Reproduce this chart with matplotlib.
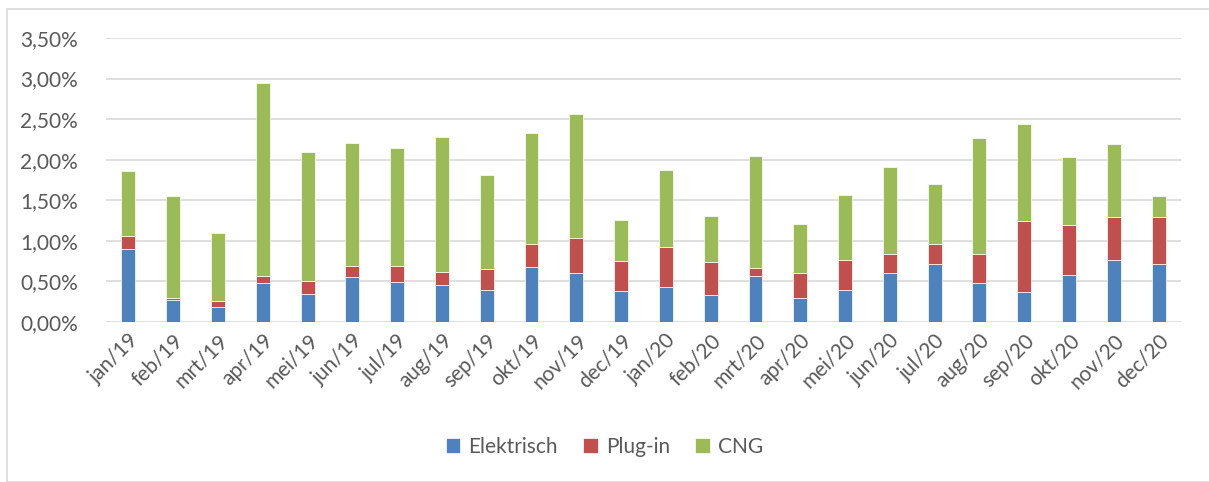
import matplotlib.pyplot as plt
from matplotlib.patches import Rectangle
from matplotlib.ticker import FuncFormatter, MultipleLocator
import numpy as np

plt.rcParams['font.family'] = ['Lato', 'DejaVu Sans']

# maanden
months = ["jan/19", "feb/19", "mrt/19", "apr/19", "mei/19", "jun/19",
          "jul/19", "aug/19", "sep/19", "okt/19", "nov/19", "dec/19",
          "jan/20", "feb/20", "mrt/20", "apr/20", "mei/20", "jun/20",
          "jul/20", "aug/20", "sep/20", "okt/20", "nov/20", "dec/20"]

# aandeel in procent per segment
elektrisch = [0.90, 0.27, 0.18, 0.48, 0.34, 0.55, 0.49, 0.45, 0.39, 0.68, 0.60, 0.38,
              0.43, 0.33, 0.57, 0.30, 0.39, 0.60, 0.72, 0.48, 0.37, 0.58, 0.77, 0.72]
plugin = [0.16, 0.02, 0.08, 0.09, 0.17, 0.14, 0.20, 0.17, 0.26, 0.28, 0.44, 0.37,
          0.50, 0.41, 0.10, 0.30, 0.37, 0.24, 0.24, 0.36, 0.87, 0.61, 0.53, 0.57]
cng = [0.80, 1.26, 0.84, 2.37, 1.58, 1.52, 1.45, 1.66, 1.16, 1.37, 1.52, 0.51,
       0.94, 0.57, 1.37, 0.61, 0.80, 1.07, 0.74, 1.43, 1.20, 0.84, 0.89, 0.26]

BLUE = "#4F81BD"
RED = "#C0504D"
GREEN = "#9BBB59"
GREY_TXT = "#595959"

fig = plt.figure(figsize=(12.09, 4.82), dpi=100)
# rand om het grafiekgebied
fig.patches.append(Rectangle((7 / 1209, 0), 1.0, 1 - 9 / 482, transform=fig.transFigure,
                             fill=False, edgecolor="#D9D9D9", linewidth=1.2))

ax = fig.add_axes([106 / 1209, 1 - 322 / 482, (1181 - 106) / 1209, (322 - 38) / 482])

x = np.arange(len(months))
e = np.array(elektrisch)
p = np.array(plugin)
c = np.array(cng)
w = 0.31
ax.bar(x, e, w, color=BLUE, edgecolor="white", linewidth=0.5, label="Elektrisch", zorder=3)
ax.bar(x, p, w, bottom=e, color=RED, edgecolor="white", linewidth=0.5, label="Plug-in", zorder=3)
ax.bar(x, c, w, bottom=e + p, color=GREEN, edgecolor="white", linewidth=0.5, label="CNG", zorder=3)

ax.set_xlim(-0.5, len(months) - 0.5)
ax.set_ylim(0, 3.5)
ax.yaxis.set_major_locator(MultipleLocator(0.5))
ax.yaxis.set_major_formatter(FuncFormatter(lambda v, _: f"{v:.2f}%".replace(".", ",")))
ax.grid(axis="y", color="#D9D9D9", linewidth=1.2, zorder=0)
for s in ["top", "right", "left", "bottom"]:
    ax.spines[s].set_visible(False)
ax.tick_params(axis="both", length=0, colors=GREY_TXT, labelsize=15)
ax.tick_params(axis="y", pad=20)
ax.tick_params(axis="x", pad=6)
ax.set_xticks(x)
ax.set_xticklabels(months, rotation=45, ha="right", rotation_mode="anchor")

leg = fig.legend(loc="center", bbox_to_anchor=(0.5, 1 - 447 / 482), ncol=3, frameon=False,
                 fontsize=15, handlelength=0.7, handleheight=0.7, handletextpad=0.4,
                 columnspacing=1.2)
for t in leg.get_texts():
    t.set_color(GREY_TXT)

fig.savefig("out.png", dpi=100)
